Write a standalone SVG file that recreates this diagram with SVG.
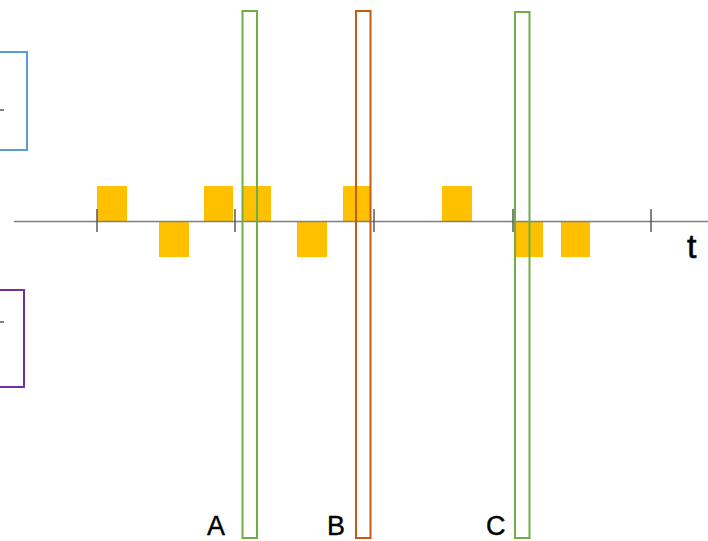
<svg xmlns="http://www.w3.org/2000/svg" width="708" height="541" viewBox="0 0 708 541">
<style>
.pulse{fill:#FFC000;stroke:none}
.axis{stroke:#7F7F7F;stroke-width:1.5;fill:none}
.tick{stroke:#595959;stroke-width:1.5}
.win{fill:none;stroke-width:2}
.lbl{font-family:"Liberation Sans",Arial,sans-serif;fill:#000}
</style>
<rect width="708" height="541" fill="#fff"/>
<g id="blue-box"><rect x="-2" y="52" width="29" height="98" class="win" stroke="#5B9BD5"/><line x1="0" y1="110" x2="4" y2="110" class="tick"/></g>
<g id="purple-box"><rect x="-2" y="290" width="26" height="97" class="win" stroke="#7030A0"/><line x1="0" y1="322" x2="4" y2="322" class="tick"/></g>
<g id="pulses">
<rect class="pulse" x="97" y="186" width="30" height="35"/>
<rect class="pulse" x="159" y="221" width="30" height="36"/>
<rect class="pulse" x="204" y="186" width="29" height="35"/>
<rect class="pulse" x="242" y="186" width="29" height="35"/>
<rect class="pulse" x="297" y="221" width="30" height="36"/>
<rect class="pulse" x="343" y="186" width="28" height="35"/>
<rect class="pulse" x="442" y="186" width="30" height="35"/>
<rect class="pulse" x="516" y="221" width="27" height="36"/>
<rect class="pulse" x="561" y="221" width="29" height="36"/>
</g>
<g id="axis">
<line x1="14" y1="221.5" x2="708" y2="221.5" class="axis"/>
<line x1="97" y1="209" x2="97" y2="232" class="tick"/>
<line x1="235" y1="209" x2="235" y2="232" class="tick"/>
<line x1="374" y1="209" x2="374" y2="232" class="tick"/>
<line x1="513" y1="209" x2="513" y2="232" class="tick"/>
<line x1="651" y1="209" x2="651" y2="232" class="tick"/>
<text x="687" y="258" class="lbl" font-size="34" stroke="#000" stroke-width="0.6">t</text>
</g>
<g id="window-A"><rect x="242.5" y="11" width="14.5" height="527" class="win" stroke="#70AD47"/><text x="207" y="535" class="lbl" font-size="27" stroke="#000" stroke-width="0.4">A</text></g>
<g id="window-B"><rect x="356" y="11" width="14.5" height="527" class="win" stroke="#C55A11"/><text x="327" y="535" class="lbl" font-size="27" stroke="#000" stroke-width="0.4">B</text></g>
<g id="window-C"><rect x="515" y="12" width="14.5" height="526" class="win" stroke="#70AD47"/><text x="486" y="535" class="lbl" font-size="27" stroke="#000" stroke-width="0.4">C</text></g>
</svg>
